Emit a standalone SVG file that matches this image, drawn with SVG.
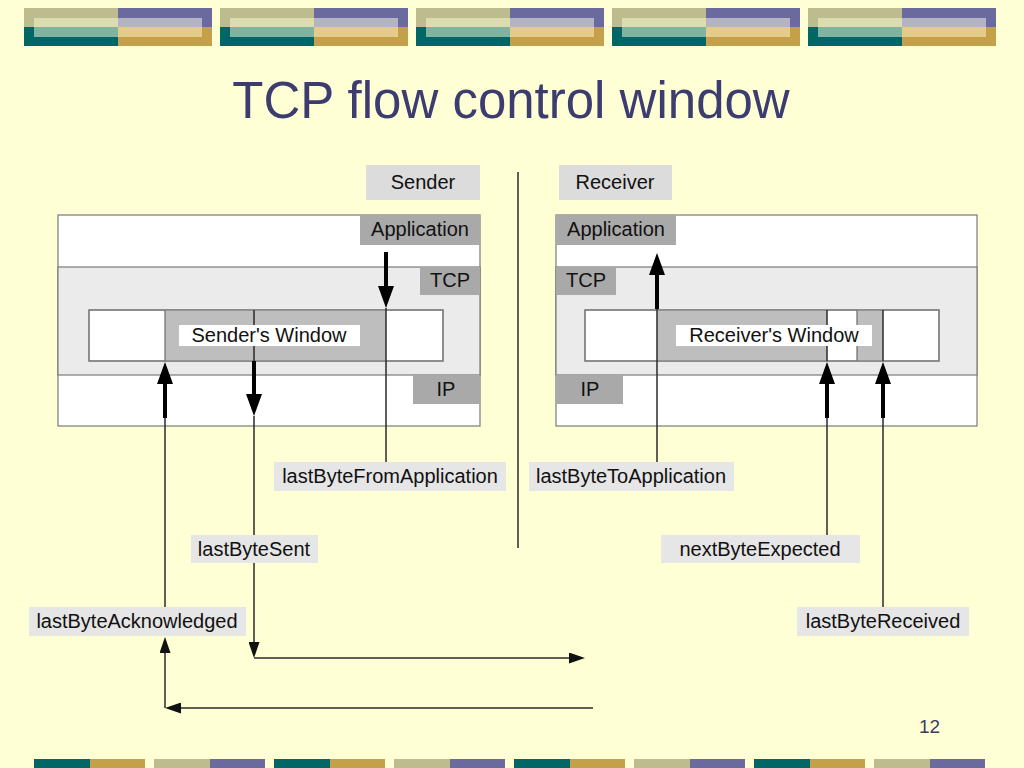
<svg xmlns="http://www.w3.org/2000/svg" width="1024" height="768" viewBox="0 0 1024 768">
<style>
  text { font-family: "Liberation Sans", Arial, sans-serif; fill: #111; }
  .lbl { font-size: 20px; text-anchor: middle; }
  .title { font-size: 51px; text-anchor: middle; fill: #3C3C70; }
  .pg { font-size: 19px; fill: #3C3C60; }
  .outer { fill: #FFFFFF; stroke: #7A7A7A; stroke-width: 1.2; }
  .tcp { fill: #EBEBEB; stroke: #7A7A7A; stroke-width: 1.2; }
  .win { fill: #FFFFFF; stroke: #7A7A7A; stroke-width: 1.2; }
  .wgrey { fill: #BEBEBE; }
  .layer { fill: #A9A9A9; }
  .side { fill: #DCDCDC; }
  .tag { fill: #E6E6E6; }
  .white { fill: #FFFFFF; }
  .thin { stroke: #2A2A2A; stroke-width: 1.5; fill: none; }
  .thick { stroke: #000; stroke-width: 4; fill: none; }
  .edge { stroke: #6A6A6A; stroke-width: 1.2; }
</style>
<defs>
  <marker id="ahThick" markerUnits="userSpaceOnUse" markerWidth="22" markerHeight="16" viewBox="0 0 22 16" refX="12" refY="8" orient="auto">
    <path d="M0,0 L22,8 L0,16 z" fill="#000"/>
  </marker>
  <marker id="ahThin" markerUnits="userSpaceOnUse" markerWidth="16" markerHeight="11" viewBox="0 0 16 11" refX="8" refY="5.5" orient="auto">
    <path d="M0,0 L16,5.5 L0,11 z" fill="#111"/>
  </marker>
  <g id="topblock">
    <rect x="0" y="0" width="94" height="19" fill="#BCBC8E"/>
    <rect x="94" y="0" width="94" height="19" fill="#6A6A9E"/>
    <rect x="0" y="19" width="94" height="19" fill="#006666"/>
    <rect x="94" y="19" width="94" height="19" fill="#C4A04A"/>
    <rect x="10" y="10" width="84" height="9" fill="#DCDCB0"/>
    <rect x="94" y="10" width="84" height="9" fill="#B4B4C0"/>
    <rect x="10" y="19" width="84" height="10" fill="#80B4A0"/>
    <rect x="94" y="19" width="84" height="10" fill="#E4CC88"/>
  </g>
  <g id="botA">
    <rect x="0" y="0" width="56" height="9" fill="#006666"/>
    <rect x="56" y="0" width="55" height="9" fill="#C4A04A"/>
  </g>
  <g id="botB">
    <rect x="0" y="0" width="56" height="9" fill="#BCBC8E"/>
    <rect x="56" y="0" width="55" height="9" fill="#6A6A9E"/>
  </g>
</defs>

<rect x="0" y="0" width="1024" height="768" fill="#FFFFD6"/>

<g id="decoration">
  <use href="#topblock" x="24" y="8"/>
  <use href="#topblock" x="220" y="8"/>
  <use href="#topblock" x="416" y="8"/>
  <use href="#topblock" x="612" y="8"/>
  <use href="#topblock" x="808" y="8"/>
  <use href="#botA" x="34" y="759"/>
  <use href="#botB" x="154" y="759"/>
  <use href="#botA" x="274" y="759"/>
  <use href="#botB" x="394" y="759"/>
  <use href="#botA" x="514" y="759"/>
  <use href="#botB" x="634" y="759"/>
  <use href="#botA" x="754" y="759"/>
  <use href="#botB" x="874" y="759"/>
</g>

<text class="title" x="511" y="118">TCP flow control window</text>

<g id="sender">
  <rect class="side" x="366" y="165" width="114" height="35"/>
  <text class="lbl" x="423" y="189">Sender</text>
  <rect class="outer" x="58" y="215" width="422" height="211"/>
  <rect class="tcp" x="58" y="267" width="422" height="108"/>
  <rect class="layer" x="360" y="215" width="120" height="30"/>
  <text class="lbl" x="420" y="236">Application</text>
  <rect class="layer" x="420" y="267" width="60" height="28"/>
  <text class="lbl" x="450" y="287">TCP</text>
  <rect class="layer" x="413" y="375" width="67" height="29"/>
  <text class="lbl" x="446" y="396">IP</text>
  <rect class="win" x="89" y="310" width="354" height="51"/>
  <rect class="wgrey" x="165" y="310" width="221" height="51"/>
  <line class="edge" x1="165" y1="310" x2="165" y2="361"/>
  <rect class="win" x="89" y="310" width="354" height="51" style="fill:none"/>
  <rect class="white" x="179" y="325" width="181" height="21"/>
  <text class="lbl" x="269" y="342">Sender's Window</text>
</g>

<g id="receiver">
  <rect class="side" x="559" y="165" width="113" height="35"/>
  <text class="lbl" x="615" y="189">Receiver</text>
  <rect class="outer" x="556" y="215" width="421" height="211"/>
  <rect class="tcp" x="556" y="267" width="421" height="108"/>
  <rect class="layer" x="556" y="215" width="120" height="30"/>
  <text class="lbl" x="616" y="236">Application</text>
  <rect class="layer" x="556" y="267" width="60" height="28"/>
  <text class="lbl" x="586" y="287">TCP</text>
  <rect class="layer" x="556" y="375" width="67" height="29"/>
  <text class="lbl" x="590" y="396">IP</text>
  <rect class="win" x="585" y="310" width="354" height="51"/>
  <rect class="wgrey" x="657" y="310" width="170" height="51"/>
  <rect class="wgrey" x="857" y="310" width="26" height="51"/>
  <line class="edge" x1="857" y1="310" x2="857" y2="361"/>
  <rect class="win" x="585" y="310" width="354" height="51" style="fill:none"/>
  <rect class="white" x="676" y="325" width="196" height="21"/>
  <text class="lbl" x="774" y="342">Receiver's Window</text>
</g>

<g id="labels">
  <g id="lbl-lastByteFromApplication">
    <rect class="tag" x="274" y="462" width="232" height="29"/>
    <text class="lbl" x="390" y="483">lastByteFromApplication</text>
  </g>
  <g id="lbl-lastByteToApplication">
    <rect class="tag" x="529" y="462" width="205" height="29"/>
    <text class="lbl" x="631" y="483">lastByteToApplication</text>
  </g>
  <g id="lbl-lastByteSent">
    <rect class="tag" x="191" y="535" width="127" height="28"/>
    <text class="lbl" x="254" y="556">lastByteSent</text>
  </g>
  <g id="lbl-nextByteExpected">
    <rect class="tag" x="661" y="535" width="199" height="28"/>
    <text class="lbl" x="760" y="556">nextByteExpected</text>
  </g>
  <g id="lbl-lastByteAcknowledged">
    <rect class="tag" x="29" y="607" width="217" height="29"/>
    <text class="lbl" x="137" y="628">lastByteAcknowledged</text>
  </g>
  <g id="lbl-lastByteReceived">
    <rect class="tag" x="797" y="607" width="172" height="29"/>
    <text class="lbl" x="883" y="628">lastByteReceived</text>
  </g>
</g>

<g id="connectors">
  <line class="thin" x1="518" y1="172" x2="518" y2="548"/>
  <!-- sender: lastByteFromApplication -->
  <line class="thick" x1="386" y1="252" x2="386" y2="298" marker-end="url(#ahThick)"/>
  <line class="thin" x1="386" y1="308" x2="386" y2="462"/>
  <!-- sender: lastByteAcknowledged -->
  <line class="thick" x1="165" y1="418" x2="165" y2="372" marker-end="url(#ahThick)"/>
  <line class="thin" x1="165" y1="418" x2="165" y2="607"/>
  <line class="thin" x1="165" y1="708" x2="165" y2="645" marker-end="url(#ahThin)"/>
  <line class="thin" x1="593" y1="708" x2="173" y2="708" marker-end="url(#ahThin)"/>
  <!-- sender: lastByteSent -->
  <line class="thin" x1="254" y1="310" x2="254" y2="325"/>
  <line class="thin" x1="254" y1="346" x2="254" y2="361"/>
  <line class="thick" x1="254" y1="361" x2="254" y2="406" marker-end="url(#ahThick)"/>
  <line class="thin" x1="254" y1="416" x2="254" y2="535"/>
  <line class="thin" x1="254" y1="563" x2="254" y2="650" marker-end="url(#ahThin)"/>
  <line class="thin" x1="254" y1="658" x2="577" y2="658" marker-end="url(#ahThin)"/>
  <!-- receiver: lastByteToApplication -->
  <line class="thick" x1="657" y1="309" x2="657" y2="263" marker-end="url(#ahThick)"/>
  <line class="thin" x1="657" y1="309" x2="657" y2="462"/>
  <!-- receiver: nextByteExpected -->
  <line class="thin" x1="827" y1="310" x2="827" y2="325"/>
  <line class="thin" x1="827" y1="346" x2="827" y2="361"/>
  <line class="thick" x1="827" y1="418" x2="827" y2="372" marker-end="url(#ahThick)"/>
  <line class="thin" x1="827" y1="418" x2="827" y2="535"/>
  <!-- receiver: lastByteReceived -->
  <line class="thin" x1="883" y1="310" x2="883" y2="361"/>
  <line class="thick" x1="883" y1="418" x2="883" y2="372" marker-end="url(#ahThick)"/>
  <line class="thin" x1="883" y1="418" x2="883" y2="607"/>
</g>

<text class="pg" x="919" y="733">12</text>
</svg>
